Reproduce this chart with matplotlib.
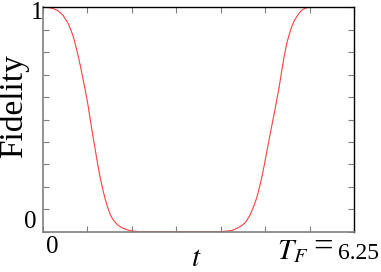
import matplotlib
matplotlib.use("Agg")
import matplotlib.pyplot as plt
import numpy as np

plt.rcParams['font.family'] = 'serif'
plt.rcParams['font.serif'] = ['Liberation Serif', 'DejaVu Serif']
plt.rcParams['mathtext.fontset'] = 'stix'

# Curve
t_vals = [0.0, 0.1, 0.2, 0.3, 0.4, 0.5, 0.55, 0.6, 0.65, 0.7, 0.75, 0.8, 0.85,
          0.9, 0.95, 1.0, 1.05, 1.1, 1.15, 1.2, 1.25, 1.3, 1.35, 1.4, 1.5, 1.6,
          1.7, 1.8, 1.9, 2.0, 2.6, 3.0, 3.5, 3.6, 3.7, 3.8, 3.9, 4.0, 4.05, 4.1,
          4.15, 4.2, 4.25, 4.3, 4.35, 4.4, 4.45, 4.5, 4.55, 4.6, 4.65, 4.7, 4.75,
          4.8, 4.85, 4.9, 4.95, 5.0, 5.05, 5.1, 5.15, 5.2, 5.25, 5.3, 5.35, 5.5]
fidelity = [1.0, 0.999, 0.995, 0.985, 0.965, 0.93, 0.905, 0.875, 0.835, 0.79,
            0.74, 0.685, 0.63, 0.57, 0.50, 0.43, 0.365, 0.30, 0.24, 0.19, 0.145,
            0.108, 0.078, 0.056, 0.03, 0.016, 0.008, 0.003, 0.001, 0.0, 0.0, 0.0,
            0.0, 0.001, 0.003, 0.006, 0.015, 0.028, 0.038, 0.052, 0.07, 0.095,
            0.122, 0.155, 0.198, 0.245, 0.30, 0.36, 0.418, 0.475, 0.53, 0.59,
            0.65, 0.72, 0.785, 0.84, 0.88, 0.915, 0.94, 0.958, 0.975, 0.987,
            0.994, 0.998, 1.0, 1.0]
T_F = 6.25

fig = plt.figure(figsize=(3.81, 2.72), dpi=100)
ax = fig.add_axes([43/381, 1-231.7/272, (354-43)/381, (231.7-7.3)/272])
ax.plot(t_vals, fidelity, color='#ff4040', lw=0.8)
ax.set_xlim(0, T_F)
ax.set_ylim(0, 1)
ax.set_xticks(np.linspace(0, T_F, 8))
ax.set_yticks(np.linspace(0, 1, 11))
ax.set_xticklabels([])
ax.set_yticklabels([])
ax.tick_params(direction='in', length=4, width=0.8, color='#808080',
               top=True, right=True)
for s in ['left', 'bottom']:
    ax.spines[s].set_color('#808080')
    ax.spines[s].set_linewidth(1.2)
for s in ['top', 'right']:
    ax.spines[s].set_color('black')
    ax.spines[s].set_linewidth(1.0)

fig.text(14/381, 1-106/272, 'Fidelity', rotation=90, ha='center', va='center', fontsize=24)
fig.text(196/381, 1-266/272, '$t$', ha='center', va='baseline', fontsize=21)
fig.text(277/381, 1-259/272, r'$T_F$', ha='left', va='baseline', fontsize=21)
fig.text(323/381, 1-248/272, '=', ha='center', va='center', fontsize=25)
fig.text(338/381, 1-259/272, '6.25', ha='left', va='baseline', fontsize=17)
fig.text(37/381, 1-13/272, '1', ha='center', va='center', fontsize=18)
fig.text(30/381, 1-222/272, '0', ha='center', va='center', fontsize=18)
fig.text(52/381, 1-247/272, '0', ha='center', va='center', fontsize=18)

fig.savefig('out.png', dpi=100)
